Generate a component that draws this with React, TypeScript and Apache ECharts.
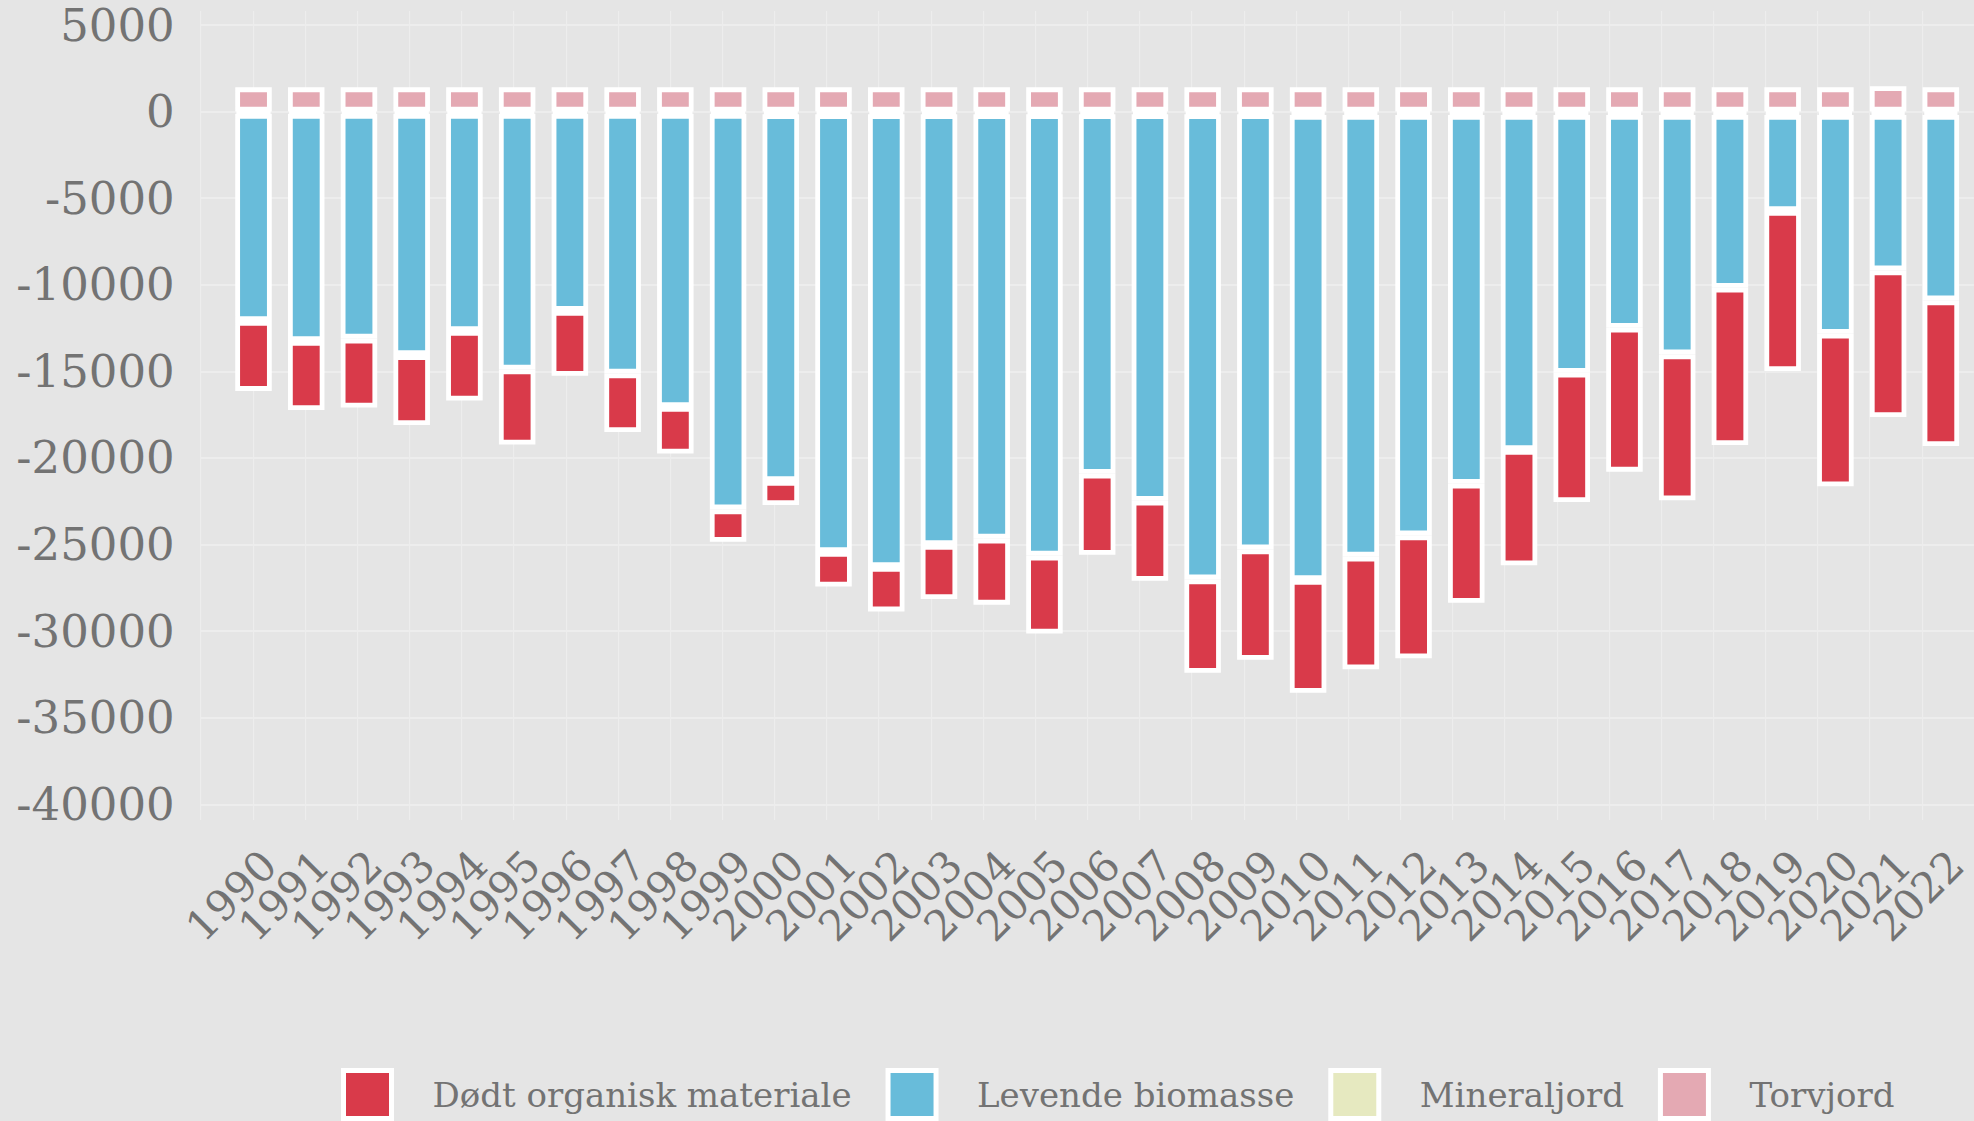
import React, { useEffect, useRef } from "react";
import * as echarts from "echarts";

const years = [
  "1990", "1991", "1992", "1993", "1994", "1995", "1996", "1997", "1998", "1999",
  "2000", "2001", "2002", "2003", "2004", "2005", "2006", "2007", "2008", "2009",
  "2010", "2011", "2012", "2013", "2014", "2015", "2016", "2017", "2018", "2019",
  "2020", "2021", "2022",
];

const dodtOrganisk = [
  -4040, -3980, -3980, -4040, -4010, -4330, -3750, -3380, -2680, -1870,
  -1390, -1990, -2560, -3120, -3810, -4500, -4680, -4620, -5390, -6370,
  -6510, -6500, -7100, -6870, -6660, -7460, -8310, -8430, -9080, -9240,
  -8810, -8470, -8410,
];

const levendeBiomasse = [
  -11960, -13120, -12980, -13930, -12540, -14760, -11380, -14990, -16930, -22840,
  -21180, -25280, -26150, -24880, -24510, -25490, -20760, -22320, -26860, -25130,
  -26860, -25510, -24280, -21300, -19350, -14890, -12290, -13830, -9980, -5550,
  -12640, -8980, -10710,
];

const mineraljord = [
  -130, -130, -130, -130, -130, -130, -130, -130, -130, -130,
  -150, -150, -150, -150, -150, -150, -150, -150, -150, -150,
  -190, -190, -190, -190, -190, -190, -190, -190, -190, -190,
  -190, -190, -190,
];

const torvjord = [
  1400, 1400, 1400, 1400, 1400, 1400, 1400, 1400, 1400, 1400,
  1400, 1400, 1400, 1400, 1400, 1400, 1400, 1400, 1400, 1400,
  1400, 1400, 1400, 1400, 1400, 1400, 1400, 1400, 1400, 1400,
  1400, 1470, 1400,
];

const legendOrder = ["Dødt organisk materiale", "Levende biomasse", "Mineraljord", "Torvjord"];

const Y_MIN = -40000;
const Y_MAX = 5000;
const Y_STEP = 5000;

export default function App() {
  const ref = useRef<HTMLDivElement>(null);

  useEffect(() => {
    if (!ref.current) return;
    const chart = echarts.init(ref.current, null, { renderer: "svg" });
    const font = "'DejaVu Serif', serif";
    const textColor = "#737373";
    const gridColor = "#ededed";
    const pitch = 52.88;
    const plotLeft = 200.7;
    const catLeft = plotLeft + pitch / 2;
    const top = 25;
    const height = 779.3;

    const barStyle = (color: string) => ({
      color,
      borderColor: "#ffffff",
      borderWidth: 4.8,
    });

    const common = {
      type: "bar",
      stack: "total",
      xAxisIndex: 2,
      yAxisIndex: 2,
      barWidth: 36.5,
    };

    chart.setOption({
      animation: false,
      backgroundColor: "#e5e5e5",
      grid: [
        { left: plotLeft, top, height, width: 1800 },
        { left: plotLeft, top: 11, height: 809, width: pitch * 34 },
        { left: catLeft, top, height, width: pitch * years.length },
      ],
      xAxis: [
        { gridIndex: 0, type: "value", show: false, min: 0, max: 1 },
        {
          gridIndex: 1,
          type: "value",
          min: -0.5,
          max: 33.5,
          interval: 1,
          axisLine: { show: false },
          axisTick: { show: false },
          axisLabel: { show: false },
          splitLine: { show: true, lineStyle: { color: gridColor, width: 1.2 } },
        },
        {
          gridIndex: 2,
          type: "category",
          data: years,
          axisLine: { show: false },
          axisTick: { show: false },
          splitLine: { show: false },
          axisLabel: {
            rotate: 45,
            interval: 0,
            margin: 38,
            align: "right",
            verticalAlign: "top",
            fontFamily: font,
            fontSize: 42,
            lineHeight: 44,
            color: textColor,
          },
        },
      ],
      yAxis: [
        {
          gridIndex: 0,
          type: "value",
          min: Y_MIN,
          max: Y_MAX,
          interval: Y_STEP,
          axisLine: { show: false },
          axisTick: { show: false },
          axisLabel: {
            margin: 26,
            fontFamily: font,
            fontSize: 45,
            color: textColor,
            formatter: (v: number) => String(v),
          },
          splitLine: { show: true, lineStyle: { color: gridColor, width: 2.2 } },
        },
        { gridIndex: 1, type: "value", show: false, min: 0, max: 1, splitLine: { show: false } },
        { gridIndex: 2, type: "value", show: false, min: Y_MIN, max: Y_MAX, splitLine: { show: false } },
      ],
      legend: {
        data: legendOrder,
        left: 336,
        top: 1063,
        orient: "horizontal",
        itemWidth: 48,
        itemHeight: 48,
        itemGap: 34,
        icon: "rect",
        itemStyle: { borderColor: "#ffffff", borderWidth: 5 },
        textStyle: {
          fontFamily: font,
          fontSize: 34,
          color: textColor,
          padding: [0, 0, 0, 36],
        },
      },
      series: [
        { ...common, name: "Mineraljord", data: mineraljord, itemStyle: barStyle("#e6e9c0") },
        { ...common, name: "Levende biomasse", data: levendeBiomasse, itemStyle: barStyle("#68bcda") },
        { ...common, name: "Dødt organisk materiale", data: dodtOrganisk, itemStyle: barStyle("#d93a4a") },
        { ...common, name: "Torvjord", data: torvjord, itemStyle: barStyle("#e4a9b3") },
      ],
    });

    return () => chart.dispose();
  }, []);

  return (
    <div
      ref={ref}
      style={{ position: "fixed", left: 0, top: 0, width: 1974, height: 1121, background: "#e5e5e5" }}
    />
  );
}
